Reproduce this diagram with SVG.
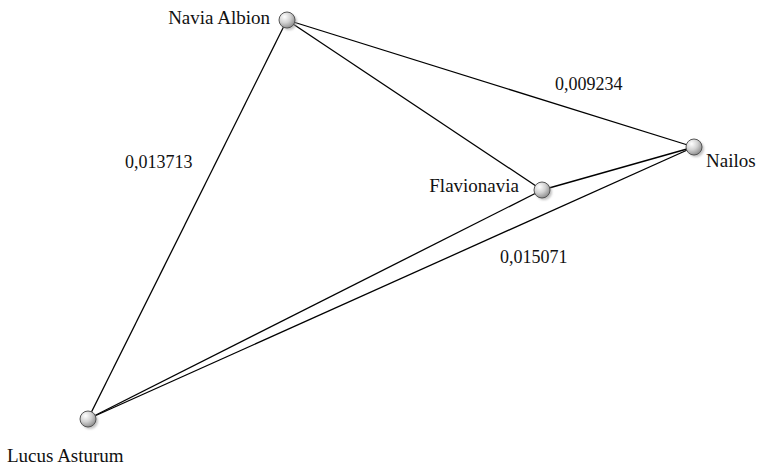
<svg xmlns="http://www.w3.org/2000/svg" width="759" height="465" viewBox="0 0 759 465">
<style>
.e{stroke:#000;stroke-width:1.3;fill:none}
.lbl{font-family:"Liberation Serif","Times New Roman",serif;font-size:18px;fill:#111}
.nm{font-size:19px}
.n{fill:url(#g);stroke:#555;stroke-width:1}
.s{fill:#999;opacity:0.6;filter:url(#b)}
</style>
<defs>
<radialGradient id="g" cx="0.35" cy="0.3" r="0.75">
<stop offset="0" stop-color="#ffffff"/>
<stop offset="0.5" stop-color="#d2d2d2"/>
<stop offset="1" stop-color="#8a8a8a"/>
</radialGradient>
<filter id="b" x="-50%" y="-50%" width="200%" height="200%"><feGaussianBlur stdDeviation="1"/></filter>
</defs>
<rect width="759" height="465" fill="#fff"/>
<g id="edges">
<line class="e" x1="287" y1="20" x2="88" y2="419"/>
<line class="e" x1="287" y1="20" x2="542" y2="190"/>
<line class="e" x1="287" y1="20" x2="694" y2="147"/>
<line class="e" x1="542" y1="190" x2="694" y2="147"/>
<line class="e" x1="542" y1="190" x2="88" y2="419"/>
<line class="e" x1="694" y1="147" x2="88" y2="419"/>
<text class="lbl" x="555" y="90">0,009234</text>
<text class="lbl" x="500" y="263">0,015071</text>
<text class="lbl" x="125" y="168">0,013713</text>
</g>
<g id="navia-albion">
<circle class="s" cx="289" cy="22" r="8"/>
<circle class="n" cx="287" cy="20" r="8"/>
<text class="lbl nm" x="270" y="24" text-anchor="end">Navia Albion</text>
</g>
<g id="flavionavia">
<circle class="s" cx="544" cy="192" r="8"/>
<circle class="n" cx="542" cy="190" r="8"/>
<text class="lbl nm" x="519" y="192" text-anchor="end">Flavionavia</text>
</g>
<g id="nailos">
<circle class="s" cx="696" cy="149" r="8"/>
<circle class="n" cx="694" cy="147" r="8"/>
<text class="lbl nm" x="706" y="167">Nailos</text>
</g>
<g id="lucus-asturum">
<circle class="s" cx="90" cy="421" r="8"/>
<circle class="n" cx="88" cy="419" r="8"/>
<text class="lbl nm" x="7" y="462">Lucus Asturum</text>
</g>
</svg>
